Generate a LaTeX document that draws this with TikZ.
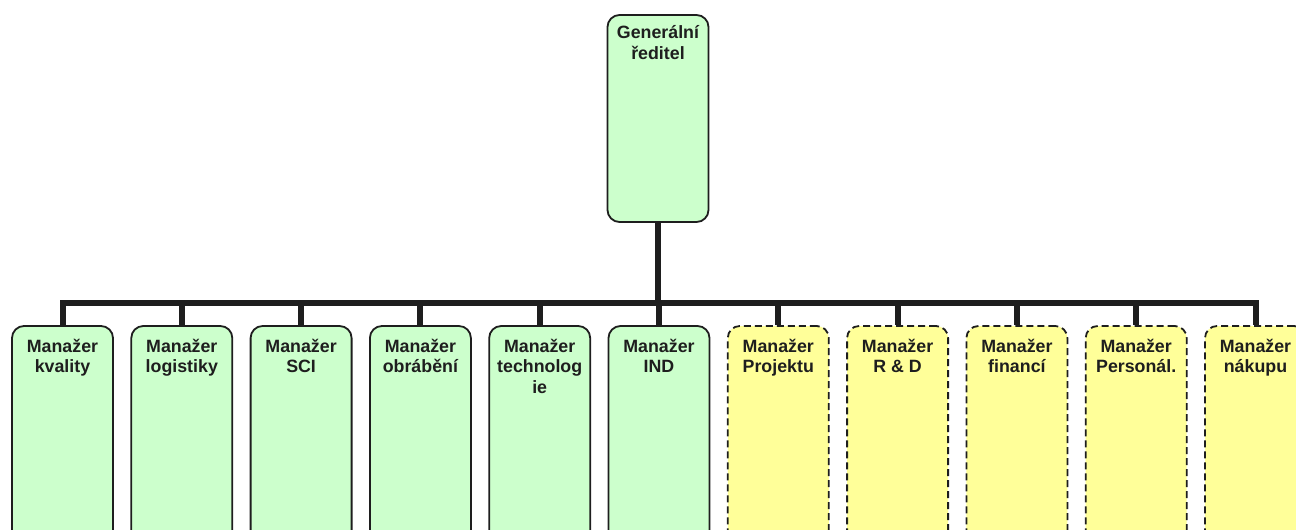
\documentclass[tikz,border=0pt]{standalone}
\usepackage{fontspec}
\setmainfont{Liberation Sans}
\definecolor{boxgreen}{HTML}{CCFFCC}
\definecolor{boxyellow}{HTML}{FFFF99}
\definecolor{ink}{HTML}{1E1E1E}
% centred lines whose reference point is the first baseline
\newcommand{\toplines}[1]{\begin{tabular}[t]{@{}c@{}}#1\end{tabular}}
\begin{document}
\begin{tikzpicture}[x=1pt,y=-1pt,
  box/.style={draw=ink, line width=1.8pt, rounded corners=12pt,
    minimum width=101pt, inner sep=0pt},
  staffbox/.style={box, fill=boxgreen, minimum height=230pt},
  lineboxd/.style={box, fill=boxyellow, minimum height=230pt,
    dash pattern=on 7pt off 4pt},
  topbox/.style={box, fill=boxgreen, minimum height=207pt},
  caption/.style={font=\fontsize{17.8}{20.5}\selectfont\bfseries, text=ink,
    anchor=base, inner sep=0pt},
  conn/.style={draw=ink, line width=6pt}]
\useasboundingbox (0,0) rectangle (1296,530);
\clip (0,0) rectangle (1296,530);

% top of the hierarchy
\node[topbox] (gr) at (658,118.5) {};
\node[caption, font=\fontsize{17.8}{21.5}\selectfont\bfseries] (grt) at (658,38) {\toplines{Generální\\ředitel}};

% second level: managers
\foreach \i/\txt/\kind in {
  1/{Manažer\\kvality}/staffbox,
  2/{Manažer\\logistiky}/staffbox,
  3/{Manažer\\SCI}/staffbox,
  4/{Manažer\\obrábění}/staffbox,
  5/{Manažer\\technolog\\ie}/staffbox,
  6/{Manažer\\IND}/staffbox,
  7/{Manažer\\Projektu}/lineboxd,
  8/{Manažer\\R \& D}/lineboxd,
  9/{Manažer\\financí}/lineboxd,
  10/{Manažer\\Personál.}/lineboxd,
  11/{Manažer\\nákupu}/lineboxd}{
  \pgfmathsetmacro{\cx}{62.5+119.3*(\i-1)}
  \node[\kind] (m\i) at (\cx,441) {};
  \node[caption] (m\i t) at (\cx,352) {\toplines{\txt}};
}

% connectors
\coordinate (bar) at (658,303);
\draw[conn] (gr.south) -- (gr.south |- bar);
\draw[conn] (m1.north) -- (m1.north |- bar) -- (m11.north |- bar) -- (m11.north);
\foreach \i in {2,...,10}{
  \draw[conn] (m\i.north) -- (m\i.north |- bar);
}
\end{tikzpicture}
\end{document}
